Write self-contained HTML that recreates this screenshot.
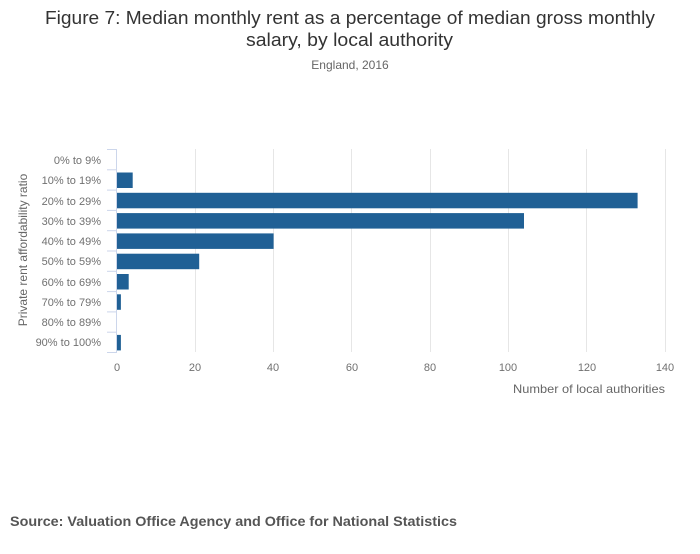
<!DOCTYPE html>
<html><head><meta charset="utf-8"><style>
body{margin:0;background:#fff;width:700px;height:549px;overflow:hidden;font-family:"Liberation Sans",sans-serif}
</style></head><body>
<svg width="700" height="549" xmlns="http://www.w3.org/2000/svg" font-family="Liberation Sans, sans-serif">
<text x="45" y="24" font-size="18" fill="#333" textLength="610" lengthAdjust="spacingAndGlyphs">Figure 7: Median monthly rent as a percentage of median gross monthly</text>
<text x="246" y="46" font-size="18" fill="#333" textLength="207" lengthAdjust="spacingAndGlyphs">salary, by local authority</text>
<text x="350" y="69" text-anchor="middle" font-size="12" fill="#666">England, 2016</text>
<g stroke="#e6e6e6" stroke-width="1">
<line x1="195.5" y1="149" x2="195.5" y2="352"/><line x1="273.5" y1="149" x2="273.5" y2="352"/>
<line x1="351.5" y1="149" x2="351.5" y2="352"/><line x1="430.5" y1="149" x2="430.5" y2="352"/>
<line x1="508.5" y1="149" x2="508.5" y2="352"/><line x1="586.5" y1="149" x2="586.5" y2="352"/>
<line x1="665.5" y1="149" x2="665.5" y2="352"/>
</g>
<g fill="#206095">
<rect x="117" y="172.5" width="15.7" height="15.5"/>
<rect x="117" y="192.8" width="520.6" height="15.5"/>
<rect x="117" y="213.1" width="407" height="15.5"/>
<rect x="117" y="233.4" width="156.6" height="15.5"/>
<rect x="117" y="253.7" width="82.2" height="15.5"/>
<rect x="117" y="274" width="11.7" height="15.5"/>
<rect x="117" y="294.3" width="3.9" height="15.5"/>
<rect x="117" y="334.9" width="3.9" height="15.5"/>
</g>
<g stroke="#ccd6eb" stroke-width="1">
<line x1="116.5" y1="149" x2="116.5" y2="352"/>
<line x1="107" y1="149.5" x2="117" y2="149.5"/><line x1="107" y1="169.8" x2="117" y2="169.8"/>
<line x1="107" y1="190.1" x2="117" y2="190.1"/><line x1="107" y1="210.4" x2="117" y2="210.4"/>
<line x1="107" y1="230.7" x2="117" y2="230.7"/><line x1="107" y1="251" x2="117" y2="251"/>
<line x1="107" y1="271.3" x2="117" y2="271.3"/><line x1="107" y1="291.6" x2="117" y2="291.6"/>
<line x1="107" y1="311.9" x2="117" y2="311.9"/><line x1="107" y1="332.2" x2="117" y2="332.2"/>
<line x1="107" y1="352.5" x2="117" y2="352.5"/>
</g>
<g font-size="11" fill="#707070" text-anchor="end">
<text x="101" y="164">0% to 9%</text><text x="101" y="184">10% to 19%</text>
<text x="101" y="205">20% to 29%</text><text x="101" y="225">30% to 39%</text>
<text x="101" y="245">40% to 49%</text><text x="101" y="265">50% to 59%</text>
<text x="101" y="286">60% to 69%</text><text x="101" y="306">70% to 79%</text>
<text x="101" y="326">80% to 89%</text><text x="101" y="346">90% to 100%</text>
</g>
<g font-size="11" fill="#707070" text-anchor="middle">
<text x="117" y="371">0</text><text x="195" y="371">20</text><text x="273" y="371">40</text>
<text x="352" y="371">60</text><text x="430" y="371">80</text><text x="508" y="371">100</text>
<text x="587" y="371">120</text><text x="665" y="371">140</text>
</g>
<text x="513" y="393" font-size="12" fill="#666" textLength="152" lengthAdjust="spacingAndGlyphs">Number of local authorities</text>
<text transform="translate(27,250) rotate(-90)" text-anchor="middle" font-size="12" fill="#666">Private rent affordability ratio</text>
<text x="10" y="526" font-size="14" font-weight="bold" fill="#555" textLength="447" lengthAdjust="spacingAndGlyphs">Source: Valuation Office Agency and Office for National Statistics</text>
</svg>
</body></html>
